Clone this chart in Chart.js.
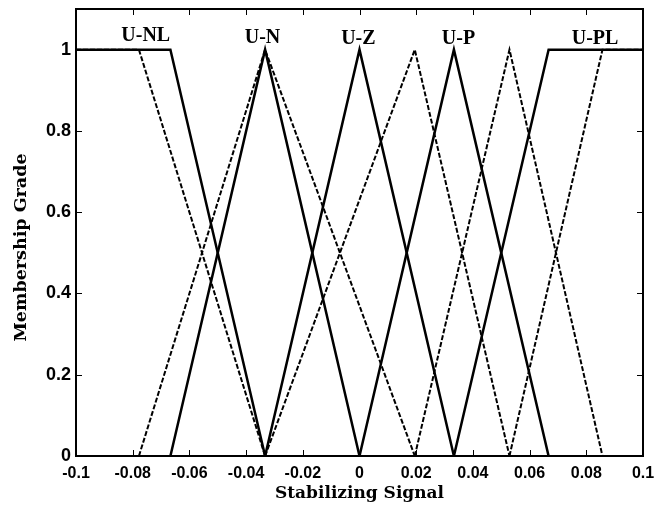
<!DOCTYPE html>
<html>
<head>
<meta charset="utf-8">
<script src="https://cdn.jsdelivr.net/npm/chart.js@4/dist/chart.umd.min.js"></script>
<style>
  html, body { margin: 0; padding: 0; background: #fff; }
  #box { width: 654px; height: 506px; }
</style>
</head>
<body>
<div id="box"><canvas id="grafico"></canvas></div>
<script>
// solid membership functions (x breakpoints, grade)
const unlX = [-0.1, -0.0667, -0.0333], unlY = [1, 1, 0];
const unX = [-0.0667, -0.0333, 0], unY = [0, 1, 0];
const uzX = [-0.0333, 0, 0.0333], uzY = [0, 1, 0];
const upX = [0, 0.0333, 0.0667], upY = [0, 1, 0];
const uplX = [0.0333, 0.0667, 0.1], uplY = [0, 1, 1];

// dashed membership functions
const d1X = [-0.1, -0.0778, -0.0333], d1Y = [1, 1, 0];
const d2X = [-0.0778, -0.0333, 0.0195], d2Y = [0, 1, 0];
const d3X = [-0.0333, 0.0195, 0.0529], d3Y = [0, 1, 0];
const d4X = [0.0195, 0.0529, 0.0857], d4Y = [0, 1, 0];
const d5X = [0.0529, 0.0857, 0.1], d5Y = [0, 1, 1];

// tick labels
const xTicks = [-0.1, -0.08, -0.06, -0.04, -0.02, 0, 0.02, 0.04, 0.06, 0.08, 0.1];
const yTicks = [0, 0.2, 0.4, 0.6, 0.8, 1];

// set names written above the peaks
const setNames = ["U-NL", "U-N", "U-Z", "U-P", "U-PL"];
const setNameX = [-0.0754, -0.0342, -0.0004, 0.0349, 0.0831];
const setNameY = [1.022, 1.017, 1.014, 1.014, 1.014];

const yTitle = "Membership Grade";

const pts = (xs, ys) => xs.map((x, i) => ({ x: x, y: ys[i] }));

const solid = [[unlX, unlY], [unX, unY], [uzX, uzY], [upX, upY], [uplX, uplY]];
const dashed = [[d1X, d1Y], [d2X, d2Y], [d3X, d3Y], [d4X, d4Y], [d5X, d5Y]];

const datasets = [];
dashed.forEach(s => datasets.push({
    data: pts(s[0], s[1]),
    borderColor: "#000",
    borderWidth: 2,
    borderDash: [5, 2],
    pointRadius: 0,
    tension: 0
}));
solid.forEach(s => datasets.push({
    data: pts(s[0], s[1]),
    borderColor: "#000",
    borderWidth: 2.5,
    pointRadius: 0,
    tension: 0
}));

const frame = {
    id: "frame",
    afterDatasetsDraw(chart) {
        const { ctx, chartArea: a, scales } = chart;
        ctx.save();
        ctx.strokeStyle = "#000";
        ctx.lineWidth = 1;
        // inward ticks
        ctx.beginPath();
        xTicks.forEach(v => {
            const px = Math.round(scales.x.getPixelForValue(v)) + 0.5;
            ctx.moveTo(px, a.top); ctx.lineTo(px, a.top + 6);
            ctx.moveTo(px, a.bottom); ctx.lineTo(px, a.bottom - 6);
        });
        yTicks.forEach(v => {
            const py = Math.round(scales.y.getPixelForValue(v)) + 0.5;
            ctx.moveTo(a.left, py); ctx.lineTo(a.left + 6, py);
            ctx.moveTo(a.right, py); ctx.lineTo(a.right - 6, py);
        });
        ctx.stroke();
        ctx.lineWidth = 2;
        ctx.strokeRect(a.left, a.top, a.right - a.left, a.bottom - a.top);

        ctx.fillStyle = "#000";
        ctx.font = "bold 20px 'Liberation Serif'";
        ctx.textAlign = "center";
        ctx.textBaseline = "alphabetic";
        setNames.forEach((n, i) => {
            ctx.fillText(n, scales.x.getPixelForValue(setNameX[i]), scales.y.getPixelForValue(setNameY[i]));
        });

        // y axis title
        ctx.translate(21, 247.5);
        ctx.rotate(-Math.PI / 2);
        ctx.font = "bold 17.5px 'DejaVu Serif'";
        ctx.textBaseline = "middle";
        ctx.fillText(yTitle, 0, 0);
        ctx.restore();
    }
};

new Chart(document.getElementById("grafico").getContext("2d"), {
    type: "line",
    data: { datasets: datasets },
    options: {
        responsive: true,
        maintainAspectRatio: false,
        animation: false,
        layout: { padding: { left: 0, right: 11, top: 9, bottom: 0 } },
        plugins: { legend: { display: false }, tooltip: { enabled: false } },
        scales: {
            x: {
                type: "linear",
                min: -0.1,
                max: 0.1,
                afterBuildTicks: s => { s.ticks = xTicks.map(v => ({ value: v })); },
                afterFit: s => { s.height = 50; s.paddingLeft = 0; s.paddingRight = 0; },
                grid: { display: false, drawTicks: false },
                border: { display: false },
                ticks: {
                    color: "#000",
                    padding: 8,
                    maxRotation: 0,
                    autoSkip: false,
                    font: { family: "'Liberation Sans'", size: 16, weight: "bold" },
                    callback: v => String(+v.toFixed(2))
                },
                title: {
                    display: true,
                    text: "Stabilizing Signal",
                    color: "#000",
                    padding: { top: 0, bottom: 2 },
                    font: { family: "'DejaVu Serif'", size: 17, weight: "bold" }
                }
            },
            y: {
                min: 0,
                max: 1.1,
                afterBuildTicks: s => { s.ticks = yTicks.map(v => ({ value: v })); },
                afterFit: s => { s.width = 76; s.paddingTop = 0; s.paddingBottom = 0; },
                grid: { display: false, drawTicks: false },
                border: { display: false },
                ticks: {
                    color: "#000",
                    padding: 5,
                    font: { family: "'Liberation Sans'", size: 18, weight: "bold" },
                    callback: v => String(+v.toFixed(1))
                }
            }
        }
    },
    plugins: [frame]
});
</script>
</body>
</html>
